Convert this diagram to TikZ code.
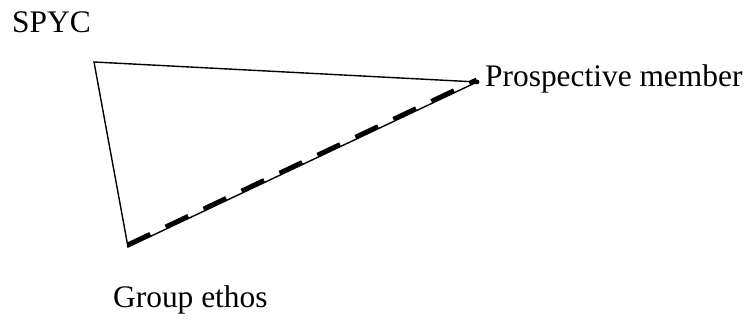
\documentclass[tikz,border=0pt]{standalone}
\usepackage{fontspec}
\setmainfont{Liberation Serif}
\begin{document}
\begin{tikzpicture}[x=1pt,y=1pt,
  lbl/.style={anchor=base west,inner sep=0pt,font=\fontsize{31.4}{36}\selectfont},
  thin edge/.style={line width=1.4pt},
  heavy dash/.style={line width=4.5pt,dash pattern=on 25pt off 17pt}]
\useasboundingbox (0,0) rectangle (752,320);
\coordinate (A) at (94,258);
\coordinate (B) at (477,238);
\coordinate (C) at (128,73);
\coordinate (Cs) at (127.6,75.2);
\coordinate (Bs) at (476.6,240.2);
\draw[thin edge,line join=miter] (B) -- (A) -- (C) -- (B);
\draw[heavy dash] (Cs) -- (Bs);
\fill (B) circle (2.4pt);
\node[lbl] (spyc) at (12,287) {SPYC};
\node[lbl] (pm) at (485,233) {Prospective member};
\node[lbl] (ge) at (113,12) {Group ethos};
\end{tikzpicture}
\end{document}
